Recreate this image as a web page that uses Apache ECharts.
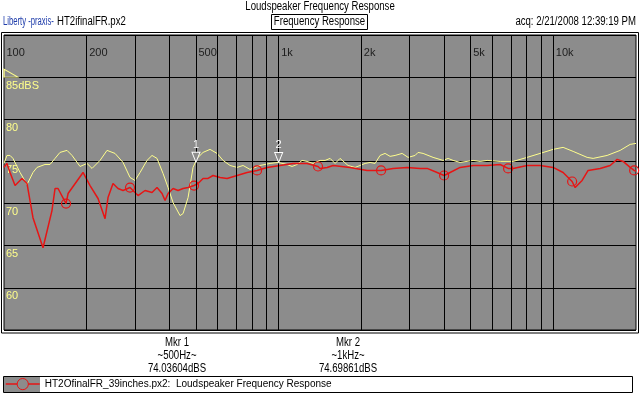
<!DOCTYPE html>
<html>
<head>
<meta charset="utf-8">
<script src="https://cdn.jsdelivr.net/npm/echarts@6/dist/echarts.min.js"></script>
<style>
  html, body { margin: 0; padding: 0; background: #fff; }
  #chart { width: 640px; height: 398px; }
</style>
</head>
<body>
<div id="chart"></div>
<script>
// frequency (Hz) / level (dBS)
var yellowFreq = [100, 102.5, 105.2, 107.8, 114.4, 121.3, 127.5, 131.9, 141, 147.1, 153.4, 159.9, 169.6, 176.9, 189.2, 200.6, 209.2, 223.7, 237.2, 253.6, 271.3, 287.6, 300, 312.9, 331.7, 345.9, 360.7, 379.4, 395.7, 412.6, 437.5, 448.7, 467.9, 487.9, 504.6, 530.6, 562.6, 596.7, 627.5, 665.3, 705.6, 742, 786.8, 855.7, 930.6, 995, 1073, 1119, 1167, 1217, 1269, 1334, 1415, 1476, 1539, 1605, 1646, 1673, 1789, 1898, 1979, 2064, 2152, 2244, 2340, 2440, 2545, 2654, 2815, 2960, 3139, 3218, 3356, 3650, 3969, 4140, 4316, 4578, 5106, 5413, 5741, 6402, 7137, 8027, 8953, 9984, 10856, 11807, 13277, 13964, 15703, 17514, 19041, 20000];
var yellowDb = [74.76, 75.71, 75.71, 75.36, 73.69, 72.26, 73.69, 74.29, 74.64, 74.64, 75.36, 76.07, 76.31, 75.71, 74.4, 74.76, 74.17, 75.12, 76.31, 75.95, 74.88, 73.1, 72.74, 73.69, 75.12, 75.71, 75.36, 73.57, 71.9, 70.12, 68.57, 68.81, 70.71, 74.29, 75.36, 76.07, 76.43, 75.95, 75.12, 74.52, 74.29, 74.52, 74.05, 74.52, 74.76, 74.88, 74.64, 74.4, 74.64, 75.12, 75.0, 74.76, 75.12, 75.12, 75.36, 74.76, 75.12, 75.36, 74.52, 74.29, 74.52, 74.76, 74.88, 74.76, 75.71, 75.95, 75.6, 75.71, 75.95, 75.48, 75.71, 76.07, 75.95, 75.48, 75.12, 75.36, 75.12, 74.88, 75.12, 75.0, 75.12, 75.0, 75.0, 75.48, 75.95, 76.43, 76.67, 76.19, 75.48, 75.36, 75.71, 76.31, 77.02, 77.14];

var redFreq = [100, 102.5, 105.2, 109.7, 116.3, 121.3, 127.5, 138.7, 149.5, 153.4, 157.3, 168.2, 171.1, 194, 205.7, 220, 233.3, 239.2, 249.4, 260.1, 271.3, 287.6, 300, 307.6, 326.2, 345.9, 360.7, 376.2, 385.8, 395.7, 412.6, 430.2, 448.7, 467.9, 492, 508.8, 530.6, 553.3, 576.9, 611.9, 648.9, 705.6, 767.3, 834.4, 907.5, 1012, 1128, 1269, 1391, 1415, 1501, 1578, 1820, 2099, 2360, 2610, 2935, 3273, 3471, 3775, 4003, 4209, 4578, 5106, 5741, 6402, 6844, 7137, 8027, 8953, 9984, 10856, 11708, 12007, 12731, 13390, 14808, 16103, 17077, 17960, 19041, 19690, 20000];
var redDb = [74.29, 74.76, 73.69, 72.14, 72.98, 72.38, 68.33, 64.76, 69.17, 71.79, 71.79, 70.0, 71.19, 73.69, 72.14, 70.6, 68.21, 70.71, 72.38, 71.79, 71.55, 71.9, 71.31, 70.95, 71.55, 71.31, 71.9, 71.19, 70.36, 71.19, 71.79, 71.55, 71.79, 71.9, 72.14, 72.38, 72.98, 72.98, 73.33, 73.1, 72.98, 73.33, 73.69, 73.93, 74.29, 74.52, 74.76, 74.76, 74.4, 74.17, 74.29, 74.52, 74.29, 73.93, 73.93, 74.17, 74.29, 74.17, 74.17, 73.69, 73.33, 73.69, 74.29, 74.52, 74.52, 74.64, 74.17, 74.17, 74.52, 74.52, 74.29, 73.69, 72.62, 71.9, 72.74, 73.93, 74.17, 74.52, 75.24, 75.0, 74.29, 73.93, 73.81];
// red curve carries a circle every so often
var redMarkFreq = [168.2, 287.6, 492, 834.4, 1391, 2360, 4003, 6844, 11708, 19690];

// grid lines and labels of the frequency axis
var gridFreq = [200, 300, 400, 500, 600, 700, 800, 900, 1000, 2000, 3000, 4000, 5000, 6000, 7000, 8000, 9000, 10000];
var labelFreq = [100, 200, 500, 1000, 2000, 5000, 10000];
var labelText = ['100', '200', '500', '1k', '2k', '5k', '10k'];

// cursor markers on the yellow curve
var mkrFreq = [500, 1000];
var mkrDb = [74.9, 74.88];
var mkrName = ['1', '2'];
var refLevel = 85;

var seriesName = 'HT2OfinalFR_39inches.px2:  Loudspeaker Frequency Response';
var RED = '#e61515';
var YEL = '#ffff8c';
var BG = '#8c8c8c';
var FONT = 'Liberation Sans';
var SQ = 0.8; // the original face is narrow, squeeze the header texts

var chart = echarts.init(document.getElementById('chart'), null, { renderer: 'canvas' });

var yellowData = yellowFreq.map(function (f, i) { return [f, yellowDb[i]]; });
var redData = redFreq.map(function (f, i) {
  if (redMarkFreq.indexOf(f) >= 0) return [f, redDb[i]];
  return { value: [f, redDb[i]], symbol: 'none' };
});

var mkrPoints = mkrFreq.map(function (f, i) {
  return {
    coord: [f, mkrDb[i]],
    symbol: 'path://M0,0 L10,0 L5,10 Z',
    symbolSize: [8, 10],
    symbolOffset: [0, -5],
    itemStyle: { color: BG, borderColor: '#fff', borderWidth: 1 },
    label: { show: true, formatter: mkrName[i], position: 'top', distance: 1, color: '#fff', fontSize: 11, fontFamily: FONT }
  };
});
// reference level wedge at the left edge
mkrPoints.push({
  coord: [100, refLevel],
  symbol: 'path://M0,0 L0,8 L14,8 Z',
  symbolSize: [14, 8],
  symbolOffset: [7, -4],
  itemStyle: { color: BG, borderColor: YEL, borderWidth: 1 },
  label: { show: false }
});

function txt(x, y, s, align, color, sq) {
  return {
    type: 'text', x: x, y: y, scaleX: sq || SQ,
    style: { text: s, font: '12px ' + FONT, lineHeight: 13, fill: color || '#000', align: align || 'left', verticalAlign: 'middle' }
  };
}

var option = {
  animation: false,
  backgroundColor: '#fff',
  textStyle: { fontFamily: FONT },
  grid: {
    left: 4, right: 4, top: 35, bottom: 68,
    show: true, backgroundColor: BG, borderColor: '#000', borderWidth: 1
  },
  xAxis: {
    type: 'log', logBase: 10, min: 100, max: 20000, position: 'top',
    axisLine: { show: false }, axisTick: { show: false },
    axisLabel: { show: false }, splitLine: { show: false }
  },
  yAxis: {
    type: 'value', min: 55, max: 90, interval: 5,
    axisLine: { show: false }, axisTick: { show: false },
    splitLine: { lineStyle: { color: '#000', width: 1 } },
    axisLabel: {
      inside: true, margin: 2, color: YEL, fontSize: 11, fontFamily: FONT,
      verticalAlign: 'top', padding: [3, 0, 0, 0],
      formatter: function (v) {
        if (v === 85) return '85dBS';
        if (v === 55 || v === 90) return '';
        return v;
      }
    }
  },
  legend: {
    left: 5, top: 378, padding: 0, itemWidth: 34, itemHeight: 14,
    textStyle: { color: '#000', fontSize: 10, fontFamily: FONT },
    data: [{
      name: seriesName,
      itemStyle: { color: BG, borderColor: RED, borderWidth: 1 },
      lineStyle: { color: RED, width: 1.5 }
    }]
  },
  graphic: [
    { type: 'rect', z: -1, shape: { x: 1.5, y: 32.5, width: 637, height: 300.5 }, style: { fill: 'none', stroke: '#000', lineWidth: 1 } },
    txt(320, 7, 'Loudspeaker Frequency Response', 'center'),
    txt(3, 22, 'Liberty -praxis-', 'left', '#1e3caa', 0.64),
    txt(57, 22, 'HT2ifinalFR.px2'),
    { type: 'rect', shape: { x: 271.5, y: 14.5, width: 96, height: 15 }, style: { fill: '#fff', stroke: '#000', lineWidth: 1 } },
    txt(319.5, 22, 'Frequency Response', 'center'),
    txt(636, 22, 'acq: 2/21/2008 12:39:19 PM', 'right'),
    txt(177, 356, 'Mkr 1\n~500Hz~\n74.03604dBS', 'center'),
    txt(348, 356, 'Mkr 2\n~1kHz~\n74.69861dBS', 'center'),
    { type: 'rect', z: -1, shape: { x: 3.5, y: 376.5, width: 629, height: 16 }, style: { fill: '#fff', stroke: '#000', lineWidth: 1 } },
    { type: 'rect', z: -1, shape: { x: 4, y: 377, width: 36, height: 15 }, style: { fill: BG } }
  ],
  series: [
    {
      name: 'yellow',
      type: 'line',
      data: yellowData,
      symbol: 'none',
      lineStyle: { color: YEL, width: 1 },
      itemStyle: { color: YEL },
      markLine: {
        silent: true, symbol: ['none', 'none'], label: { show: false },
        lineStyle: { color: '#000', width: 1, type: 'solid' },
        data: gridFreq.map(function (f) { return { xAxis: f }; })
      },
      markPoint: { silent: true, data: mkrPoints },
      z: 3
    },
    {
      name: seriesName,
      type: 'line',
      data: redData,
      symbol: 'circle',
      symbolSize: 9,
      showSymbol: true,
      lineStyle: { color: RED, width: 1.5 },
      itemStyle: { color: 'rgba(0,0,0,0)', borderColor: RED, borderWidth: 1.2 },
      z: 4
    },
    {
      name: 'ticks',
      type: 'scatter',
      data: labelFreq.map(function (f) { return [f, 90]; }),
      symbolSize: 1,
      clip: false,
      itemStyle: { color: 'rgba(0,0,0,0)' },
      label: {
        show: true, position: [3, 13], color: '#000', fontSize: 11, fontFamily: FONT,
        formatter: function (p) { return labelText[p.dataIndex]; }
      },
      silent: true
    }
  ]
};

chart.setOption(option);
</script>
</body>
</html>
